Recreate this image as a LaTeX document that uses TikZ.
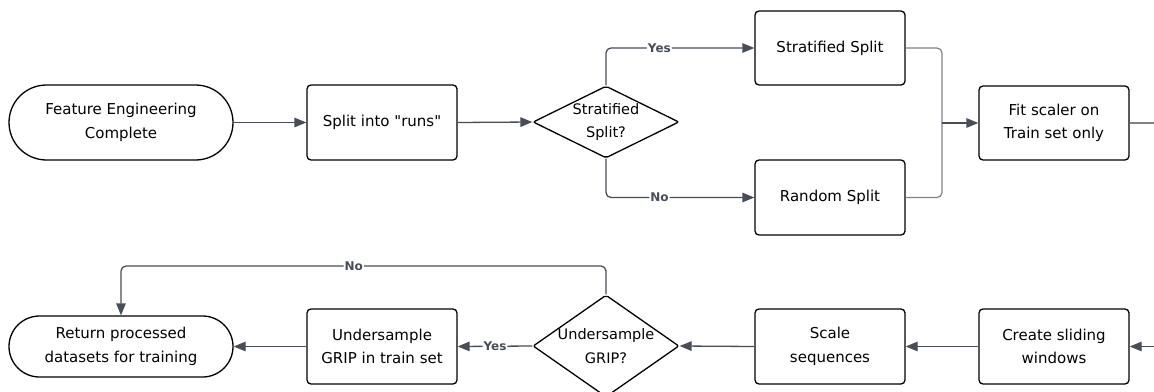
\documentclass[tikz,border=0pt]{standalone}
\usepackage{fontspec}
\setmainfont{DejaVu Sans}[Ligatures=TeXOff]
\usetikzlibrary{shapes.geometric,shapes.misc,arrows.meta}
\definecolor{conn}{HTML}{474D59}
\definecolor{merge}{HTML}{7E828A}
\tikzset{
  base/.style={draw=black, line width=1.3pt, align=center, inner sep=0pt,
    font=\fontsize{15}{23.5}\selectfont},
  procbox/.style={base, rectangle, rounded corners=4pt, minimum width=150pt, minimum height=75pt},
  termbox/.style={base, rounded rectangle, minimum width=224pt},
  decision/.style={base, diamond, rounded corners=2pt, minimum width=146pt},
  dtext/.style={align=center, inner sep=0pt, font=\fontsize{14.5}{23.5}\selectfont},
  conn/.style={draw=conn, line width=1.3pt, rounded corners=5pt,
    -{Triangle[length=12pt,width=9.5pt]}},
  mergeline/.style={draw=merge, line width=1.2pt, rounded corners=5pt},
  lbl/.style={fill=white, inner sep=1pt, text=conn, font=\fontsize{12}{14}\bfseries\selectfont}
}
\begin{document}
\begin{tikzpicture}[x=1pt,y=-1pt]
\useasboundingbox[fill=white] (0,0) rectangle (1154,391);
% row 1
\node[termbox, minimum height=75pt] (t1) at (121,122.5) {Feature Engineering\\Complete};
\node[procbox] (s1) at (382,122.5) {Split into "runs"};
\node[decision, minimum height=72pt] (d1) at (606,122) {};
\node[dtext] (d1t) at (d1) {Stratified\\Split?};
\node[procbox, minimum height=74pt] (st) at (830,48) {Stratified Split};
\node[procbox] (rs) at (830,197.5) {Random Split};
\node[procbox, minimum height=74pt] (fit) at (1054,123) {Fit scaler on\\Train set only};
\coordinate (j) at (942,123);
\coordinate (o1) at (1154,123);
% row 2
\coordinate (i2) at (1154,346.5);
\node[procbox] (cw) at (1054,346.5) {Create sliding\\windows};
\node[procbox] (sc) at (830,346.5) {Scale\\sequences};
\node[decision, minimum height=102pt] (d2) at (606,346) {};
\node[dtext] (d2t) at (d2) {Undersample\\GRIP?};
\node[procbox] (ug) at (382,346.5) {Undersample\\GRIP in train set};
\node[termbox, minimum height=61pt] (t2) at (121,346.5) {Return processed\\datasets for training};
\coordinate (nc) at (606,266);
% connectors row 1
\draw[conn] (t1.east) -- (s1.west);
\draw[conn] (s1.east) -- (d1.west);
\draw[conn] (d1.north) |- node[lbl, pos=0.68] {Yes} (st.west);
\draw[conn] (d1.south) |- node[lbl, pos=0.68] {No} (rs.west);
\draw[mergeline] (st.east) -| (j);
\draw[mergeline] (rs.east) -| (j);
\draw[conn] (j) -- (fit.west);
\draw[mergeline] (fit.east) -- (o1);
% connectors row 2
\draw[conn] (i2) -- (cw.east);
\draw[conn] (cw.west) -- (sc.east);
\draw[conn] (sc.west) -- (d2.east);
\draw[conn] (d2.west) -- node[lbl, pos=0.5] {Yes} (ug.east);
\draw[conn] (ug.west) -- (t2.east);
\draw[conn] (d2.north) -- (nc) -| node[lbl, pos=0.26] {No} (t2.north);
\end{tikzpicture}
\end{document}
